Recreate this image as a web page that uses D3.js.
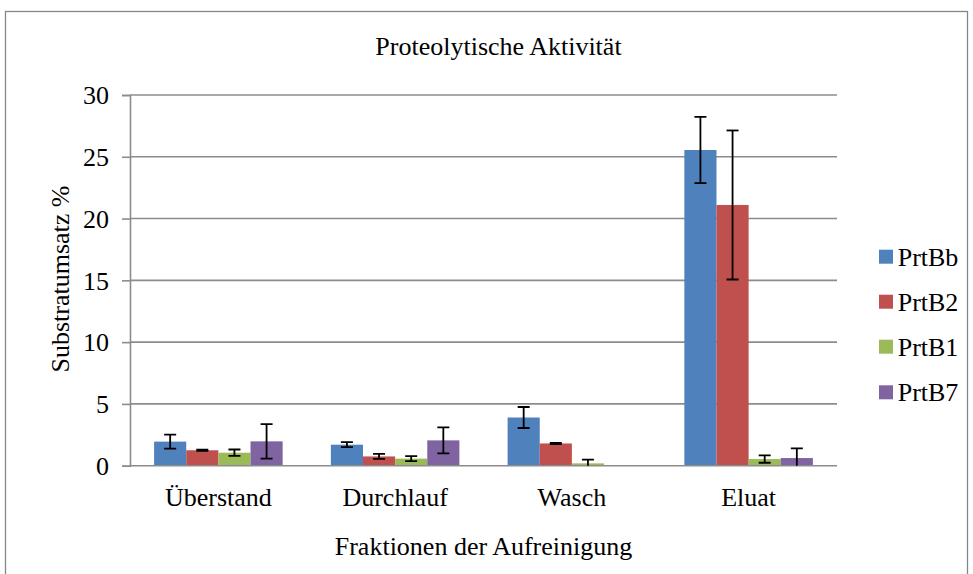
<!DOCTYPE html>
<html>
<head>
  <meta charset='utf-8'>
  <title>Proteolytische Aktivität</title>
  <style>
    body { margin: 0; background: #fff; }
    svg text { font-family: 'Liberation Serif', 'Times New Roman', serif; font-size: 26px; fill: #000; }
  </style>
  <script src='https://cdn.jsdelivr.net/npm/d3@7/dist/d3.min.js'></script>
</head>
<body>
  <svg id='chart' width='973' height='574'></svg>
  <script>
    // chart data
    const categories = ['Überstand', 'Durchlauf', 'Wasch', 'Eluat'];
    const seriesNames = ['PrtBb', 'PrtB2', 'PrtB1', 'PrtB7'];
    const seriesColors = ['#4F81BD', '#C0504D', '#9BBB59', '#8064A2'];
    // values per series, one per category
    const valPrtBb = [1.95, 1.70, 3.90, 25.55];
    const valPrtB2 = [1.25, 0.75, 1.80, 21.10];
    const valPrtB1 = [1.05, 0.57, 0.19, 0.54];
    const valPrtB7 = [1.97, 2.05, 0.03, 0.62];
    // error (+/-) per series
    const errPrtBb = [0.57, 0.20, 0.85, 2.68];
    const errPrtB2 = [0.05, 0.20, 0.05, 6.03];
    const errPrtB1 = [0.26, 0.20, 0.30, 0.30];
    const errPrtB7 = [1.40, 1.05, 0.00, 0.78];
    const yTicks = [0, 5, 10, 15, 20, 25, 30];

    const values = [valPrtBb, valPrtB2, valPrtB1, valPrtB7];
    const errors = [errPrtBb, errPrtB2, errPrtB1, errPrtB7];

    const svg = d3.select('#chart');
    const plot = { left: 130, right: 837, top: 95, bottom: 465.7 };

    // outer frame
    svg.append('rect')
      .attr('x', 5.5).attr('y', 11.5)
      .attr('width', 962).attr('height', 600)
      .attr('fill', 'none')
      .attr('stroke', '#868686')
      .attr('stroke-width', 1.3);

    const x0 = d3.scaleBand()
      .domain(categories)
      .range([plot.left, plot.right]);
    const x1 = d3.scaleBand()
      .domain(seriesNames)
      .range([0, x0.bandwidth()])
      .paddingInner(0)
      .paddingOuter(0.75);
    const y = d3.scaleLinear()
      .domain([0, 30])
      .range([plot.bottom, plot.top]);

    svg.append('defs').append('clipPath')
      .attr('id', 'plot-clip')
      .append('rect')
      .attr('x', plot.left)
      .attr('y', 0)
      .attr('width', plot.right - plot.left)
      .attr('height', plot.bottom);

    // gridlines
    svg.append('g')
      .selectAll('line')
      .data(yTicks.filter(t => t > 0))
      .join('line')
        .attr('x1', plot.left).attr('x2', plot.right)
        .attr('y1', d => y(d)).attr('y2', d => y(d))
        .attr('stroke', '#8c8c8c')
        .attr('stroke-width', 1.6);

    // y axis
    const yAxis = d3.axisLeft(y)
      .tickValues(yTicks)
      .tickSize(8)
      .tickPadding(13)
      .tickFormat(d3.format('d'));
    const gY = svg.append('g')
      .attr('transform', `translate(${plot.left}, 0)`)
      .call(yAxis);
    gY.select('.domain').attr('stroke', '#8c8c8c').attr('stroke-width', 1.6);
    gY.selectAll('.tick line').attr('stroke', '#8c8c8c').attr('stroke-width', 1.6);
    gY.selectAll('.tick text')
      .attr('font-size', null)
      .attr('font-family', null)
      .attr('dy', '0.34em');

    // bars
    const bars = svg.append('g');
    seriesNames.forEach((s, si) => {
      bars.append('g')
        .attr('fill', seriesColors[si])
        .selectAll('rect')
        .data(categories.map((c, ci) => ({ c, v: values[si][ci] })))
        .join('rect')
          .attr('x', d => x0(d.c) + x1(s))
          .attr('y', d => y(d.v))
          .attr('width', x1.bandwidth())
          .attr('height', d => y(0) - y(d.v));
    });

    // x axis line
    svg.append('line')
      .attr('x1', plot.left).attr('x2', plot.right)
      .attr('y1', y(0)).attr('y2', y(0))
      .attr('stroke', '#8c8c8c')
      .attr('stroke-width', 1.6);

    // error bars
    const errG = svg.append('g')
      .attr('clip-path', 'url(#plot-clip)')
      .attr('stroke', '#000')
      .attr('stroke-width', 1.8);
    const capHalf = 6;
    seriesNames.forEach((s, si) => {
      categories.forEach((c, ci) => {
        const e = errors[si][ci];
        if (e <= 0) return;
        const v = values[si][ci];
        const cx = x0(c) + x1(s) + x1.bandwidth() / 2;
        const yHi = y(v + e);
        const yLo = y(v - e);
        errG.append('line')
          .attr('x1', cx).attr('x2', cx)
          .attr('y1', yHi).attr('y2', yLo);
        errG.append('line')
          .attr('x1', cx - capHalf).attr('x2', cx + capHalf)
          .attr('y1', yHi).attr('y2', yHi);
        errG.append('line')
          .attr('x1', cx - capHalf).attr('x2', cx + capHalf)
          .attr('y1', yLo).attr('y2', yLo);
      });
    });

    // category labels
    svg.append('g')
      .selectAll('text')
      .data(categories)
      .join('text')
        .attr('x', d => x0(d) + x0.bandwidth() / 2)
        .attr('y', 505.7)
        .attr('text-anchor', 'middle')
        .text(d => d);

    // titles
    svg.append('text')
      .attr('x', 498.5).attr('y', 55)
      .attr('text-anchor', 'middle')
      .text('Proteolytische Aktivität');
    svg.append('text')
      .attr('x', (plot.left + plot.right) / 2).attr('y', 555)
      .attr('text-anchor', 'middle')
      .text('Fraktionen der Aufreinigung');
    svg.append('text')
      .attr('transform', 'translate(69, 279) rotate(-90)')
      .attr('text-anchor', 'middle')
      .text('Substratumsatz %');

    // legend
    const legendY = [256.7, 301.7, 346.7, 392.3];
    const legend = svg.append('g')
      .selectAll('g')
      .data(seriesNames)
      .join('g')
        .attr('transform', (d, i) => `translate(879, ${legendY[i]})`);
    legend.append('rect')
      .attr('x', 0).attr('y', -7)
      .attr('width', 14).attr('height', 14)
      .attr('fill', (d, i) => seriesColors[i]);
    legend.append('text')
      .attr('x', 18.7)
      .attr('dy', '0.34em')
      .text(d => d);
  </script>
</body>
</html>
